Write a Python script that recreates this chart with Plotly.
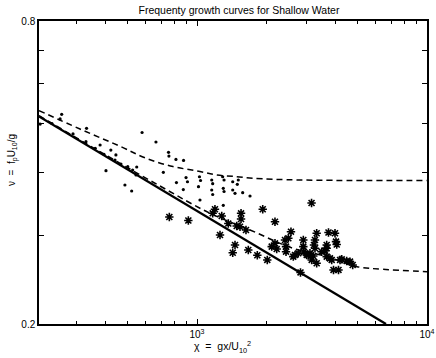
import plotly.graph_objects as go
import math

# ---- Data ----
# Solid line (power-law limit)
solid_x = [205.6, 6633]
solid_y = [0.517, 0.200]

# Upper dashed curve
up_x = [205.6, 309.8, 462.4, 600, 786, 1000, 1222, 1492, 1752, 2805, 10000]
up_y = [0.531, 0.488, 0.451, 0.427, 0.411, 0.403, 0.3955, 0.3924, 0.3895, 0.3865, 0.3856]

# Lower dashed curve
lo_x = [205.6, 378.5, 690.2, 1138, 1700, 2615, 3675, 4964, 6440, 10000]
lo_y = [0.519, 0.440, 0.376, 0.332, 0.3075, 0.2828, 0.2722, 0.2600, 0.2569, 0.2541]

# Dots (one data set)
dot_x = [258, 254, 331, 577, 663, 752, 755, 810, 874, 714, 896, 909, 814, 872,
         1025, 1036, 1015, 1159, 1170, 1159, 1170, 1293, 1311, 1301, 1311, 1430,
         1497, 1430, 1463, 1580, 1700, 1030, 1301, 402, 486, 520, 422, 379, 547,
         444, 208, 289, 329, 361, 394, 440, 467, 500, 525, 543, 1512, 234]
dot_y = [0.522, 0.511, 0.4896, 0.4803, 0.4599, 0.4387, 0.4313, 0.4247, 0.4228,
         0.4003, 0.3909, 0.3834, 0.3820, 0.3700, 0.3923, 0.3856, 0.3748, 0.3865,
         0.3800, 0.3692, 0.3617, 0.3923, 0.3865, 0.3721, 0.3667, 0.3834, 0.3789,
         0.3692, 0.3637, 0.3647, 0.3592, 0.3527, 0.3442, 0.4034, 0.3778, 0.3675,
         0.4433, 0.4536, 0.4102, 0.4334, 0.4993, 0.4771, 0.4606, 0.4468, 0.4347,
         0.4235, 0.4159, 0.4108, 0.4046, 0.3955, 0.3865, 0.5005]

# Asterisks (other data set)
ast_x = [758, 917, 1170, 1197, 1281, 1368, 1554, 1554, 1538, 1633, 1931, 2183,
         3148, 1259, 1463, 1430, 1671, 1829, 2021, 2562, 2495, 2183, 2113, 2221,
         2438, 2438, 2622, 2899, 2899, 2919, 3258, 3226, 3314, 3730, 3981, 4021,
         3663, 3485, 3204, 3152, 3314, 3663, 3852, 4187, 4475, 4753, 2818, 3922,
         4123, 2999, 3258, 3602, 2757, 3047, 2413, 4050, 1488, 2667, 3786, 4258,
         4626, 3099, 3663]
ast_y = [0.3263, 0.3211, 0.3319, 0.3381, 0.3278, 0.3167, 0.3319, 0.3233, 0.3121,
         0.3075, 0.3381, 0.3193, 0.3479, 0.3005, 0.2871, 0.2771, 0.2806, 0.2739,
         0.2681, 0.3051, 0.2960, 0.2893, 0.2849, 0.2818, 0.2849, 0.2784, 0.2722,
         0.2937, 0.2849, 0.2780, 0.2937, 0.2871, 0.3029, 0.3040, 0.3029, 0.2915,
         0.2871, 0.2784, 0.2730, 0.2681, 0.2641, 0.2722, 0.2681, 0.2681, 0.2669,
         0.2620, 0.2532, 0.2561, 0.2561, 0.2743, 0.2828, 0.2797, 0.2764, 0.2743,
         0.2937, 0.2877, 0.3131, 0.2743, 0.2701, 0.2689, 0.2660, 0.2764, 0.2828]

x_range = [205.6, 10000]
y_range = [0.2, 0.8]
x_major = [1000, 10000]
x_major_text = ["10<sup>3</sup>", "10<sup>4</sup>"]
x_minor = [300, 400, 500, 600, 700, 800, 900,
           2000, 3000, 4000, 5000, 6000, 7000, 8000, 9000]
y_ticks = [0.2, 0.3, 0.4, 0.5, 0.6, 0.7, 0.8]
y_ticktext = ["0.2", "", "", "", "", "", "0.8"]

title_text = "Frequenty growth curves for Shallow Water"
x_title = "χ  =  gx/U<sub>10</sub><sup>2</sup>"
y_title = "ν  =  f<sub>p</sub>U<sub>10</sub>/g"

FONT = "Liberation Sans, Arial, Helvetica, sans-serif"

fig = go.Figure()
fig.add_trace(go.Scatter(x=solid_x, y=solid_y, mode="lines",
                         line=dict(color="black", width=2.3), showlegend=False))
fig.add_trace(go.Scatter(x=up_x, y=up_y, mode="lines", line_shape="spline",
                         line=dict(color="black", width=1.5, dash="6px,4px"),
                         showlegend=False))
fig.add_trace(go.Scatter(x=lo_x, y=lo_y, mode="lines", line_shape="spline",
                         line=dict(color="black", width=1.5, dash="6px,4px"),
                         showlegend=False))
fig.add_trace(go.Scatter(x=dot_x, y=dot_y, mode="markers",
                         marker=dict(symbol="circle", size=3.2, color="black"),
                         showlegend=False))
fig.add_trace(go.Scatter(x=ast_x, y=ast_y, mode="markers",
                         marker=dict(symbol="asterisk-open", size=7, color="black",
                                     line=dict(color="black", width=1.6)),
                         showlegend=False))
# invisible trace so the mirrored top/right tick axes are drawn
fig.add_trace(go.Scatter(x=[x_range[0]], y=[y_range[0]], xaxis="x2", yaxis="y2",
                         mode="markers", marker=dict(opacity=0),
                         showlegend=False, hoverinfo="skip"))

fig.update_layout(
    width=436, height=358,
    margin=dict(l=39, r=9, t=21, b=34),
    paper_bgcolor="white", plot_bgcolor="white",
    font=dict(family=FONT, size=10, color="black"),
    title=dict(text=title_text, x=(239) / 436, xanchor="center",
               y=1 - 10 / 358, yanchor="middle",
               font=dict(family=FONT, size=10.5, color="black")),
    annotations=[
        dict(text=x_title, xref="paper", yref="paper",
             x=(222 - 39) / 388, y=-(347 - 324) / 303,
             xanchor="center", yanchor="middle", showarrow=False,
             font=dict(family=FONT, size=10.5, color="black")),
        dict(text=y_title, xref="paper", yref="paper",
             x=(12 - 39) / 388, y=(324 - 160) / 303, textangle=-90,
             xanchor="center", yanchor="middle", showarrow=False,
             font=dict(family=FONT, size=10, color="black")),
    ],
)
axis_common = dict(type="log", showgrid=False, zeroline=False, showline=True,
                   linecolor="black", linewidth=1.5,
                   ticks="inside", ticklen=5, tickwidth=1, tickcolor="black",
                   automargin=False)
fig.update_layout(
    xaxis=dict(**axis_common, range=[math.log10(v) for v in x_range],
               tickvals=x_major, ticktext=x_major_text,
               minor=dict(tickvals=x_minor, ticks="inside", ticklen=3,
                          tickcolor="black", showgrid=False)),
    yaxis=dict(**axis_common, range=[math.log10(v) for v in y_range],
               tickvals=y_ticks, ticktext=y_ticktext),
    xaxis2=dict(**axis_common, range=[math.log10(v) for v in x_range],
                overlaying="x", side="top", anchor="y2",
                tickvals=x_major, showticklabels=False,
                minor=dict(tickvals=x_minor, ticks="inside", ticklen=3,
                           tickcolor="black", showgrid=False)),
    yaxis2=dict(**axis_common, range=[math.log10(v) for v in y_range],
                overlaying="y", side="right", anchor="x2",
                tickvals=y_ticks, showticklabels=False),
)

fig.write_html("out.html")
